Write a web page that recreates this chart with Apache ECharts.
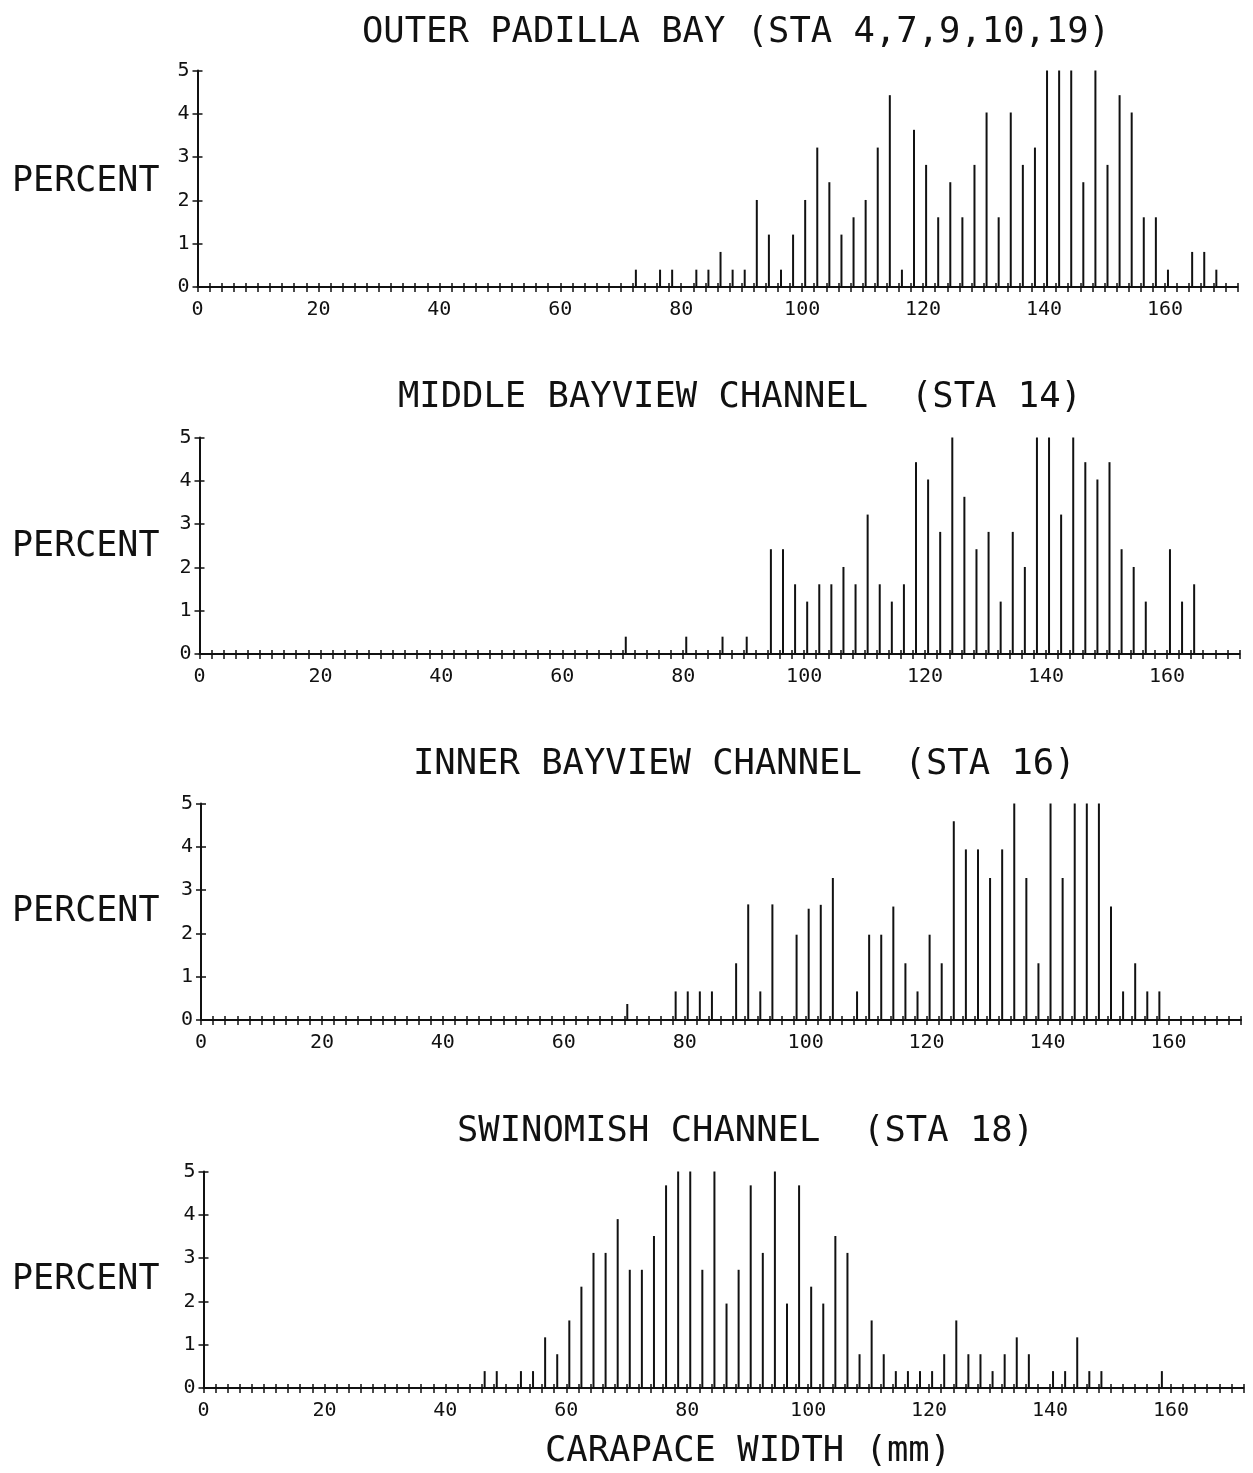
<!DOCTYPE html>
<html>
<head>
<meta charset="utf-8">
<script src="https://cdn.jsdelivr.net/npm/echarts@6/dist/echarts.min.js"></script>
<style>
html,body{margin:0;padding:0;background:#fff;}
#chart{width:1253px;height:1473px;}
</style>
</head>
<body>
<div id="chart"></div>
<script>
// ---------- DATA (percent of catch per 2 mm carapace-width class) ----------
// Bars that run off the top of a panel are entered as 5 (clipped at axis top).
const outerWidth = [72,74,76,78,80,82,84,86,88,90,92,94,96,98,100,102,104,106,108,110,112,114,116,118,120,122,124,126,128,130,132,134,136,138,140,142,144,146,148,150,152,154,156,158,160,162,164,166,168];
const outerPct   = [0.40,0,0.40,0.40,0,0.40,0.40,0.81,0.40,0.40,2.01,1.21,0.40,1.21,2.01,3.22,2.42,1.21,1.61,2.01,3.22,4.43,0.40,3.63,2.82,1.61,2.42,1.61,2.82,4.03,1.61,4.03,2.82,3.22,5,5,5,2.42,5,2.82,4.43,4.03,1.61,1.61,0.40,0,0.81,0.81,0.40];

const middleWidth = [70,72,74,76,78,80,82,84,86,88,90,92,94,96,98,100,102,104,106,108,110,112,114,116,118,120,122,124,126,128,130,132,134,136,138,140,142,144,146,148,150,152,154,156,158,160,162,164];
const middlePct   = [0.40,0,0,0,0,0.40,0,0,0.40,0,0.40,0,2.42,2.42,1.61,1.21,1.61,1.61,2.01,1.61,3.22,1.61,1.21,1.61,4.43,4.03,2.82,5,3.63,2.42,2.82,1.21,2.82,2.01,5,5,3.22,5,4.43,4.03,4.43,2.42,2.01,1.21,0,2.42,1.21,1.61];

const innerWidth = [70,72,74,76,78,80,82,84,86,88,90,92,94,96,98,100,102,104,106,108,110,112,114,116,118,120,122,124,126,128,130,132,134,136,138,140,142,144,146,148,150,152,154,156,158];
const innerPct   = [0.37,0,0,0,0.66,0.66,0.66,0.66,0,1.31,2.67,0.66,2.67,0,1.97,2.57,2.66,3.28,0,0.66,1.97,1.97,2.62,1.31,0.66,1.97,1.31,4.59,3.94,3.94,3.28,3.94,5,3.28,1.31,5,3.28,5,5,5,2.62,0.66,1.31,0.66,0.66];

const swinWidth = [46,48,50,52,54,56,58,60,62,64,66,68,70,72,74,76,78,80,82,84,86,88,90,92,94,96,98,100,102,104,106,108,110,112,114,116,118,120,122,124,126,128,130,132,134,136,138,140,142,144,146,148,150,152,154,156,158];
const swinPct   = [0.39,0.39,0,0.39,0.39,1.17,0.78,1.56,2.34,3.12,3.12,3.90,2.73,2.73,3.51,4.68,5,5,2.73,5,1.95,2.73,4.68,3.12,5,1.95,4.68,2.34,1.95,3.51,3.12,0.78,1.56,0.78,0.39,0.39,0.39,0.39,0.78,1.56,0.78,0.78,0.39,0.78,1.17,0.78,0,0.39,0.39,1.17,0.39,0.39,0,0,0,0,0.39];

const panelTitles = [
  'OUTER PADILLA BAY (STA 4,7,9,10,19)',
  'MIDDLE BAYVIEW CHANNEL  (STA 14)',
  'INNER BAYVIEW CHANNEL  (STA 16)',
  'SWINOMISH CHANNEL  (STA 18)'
];
const yAxisTitle = 'PERCENT';
const xAxisTitle = 'CARAPACE WIDTH (mm)';
const xTickLabels = [0,20,40,60,80,100,120,140,160];
const yTickLabels = [0,1,2,3,4,5];

// ---------- LAYOUT / STYLE ----------
const INK = '#111';
const MONO = '"DejaVu Sans Mono", "Liberation Mono", monospace';
const BAR_SHIFT = 0.5;   // needles are drawn just right of each 2-mm tick
const X_MAX = 172, Y_MAX = 5;
const PLOT_W = 1040, PLOT_H = 216.5;

const panels = [
  {w: outerWidth,  p: outerPct,  left: 197.5, top: 70.5,  tx: 362, ty: 33,   py: 182},
  {w: middleWidth, p: middlePct, left: 199.5, top: 437.5, tx: 398, ty: 398,  py: 547},
  {w: innerWidth,  p: innerPct,  left: 201,   top: 803.5, tx: 413, ty: 765,  py: 912},
  {w: swinWidth,   p: swinPct,   left: 203.5, top: 1171.5,tx: 457, ty: 1132, py: 1280}
];

const grid = [], xAxis = [], yAxis = [], series = [], graphic = [];
const lineStyle = {color: INK, width: 2};
const tickStyle = {color: INK, width: 1.5};

panels.forEach((pn, i) => {
  grid.push({left: pn.left, top: pn.top, width: PLOT_W, height: PLOT_H, containLabel: false, outerBoundsMode: 'none'});
  // main x axis: line, outward ticks, labels
  xAxis.push({
    gridIndex: i, type: 'value', min: 0, max: X_MAX, interval: 2, position: 'bottom',
    axisLine: {show: true, onZero: false, lineStyle: lineStyle},
    axisTick: {show: true, inside: false, length: 5, lineStyle: tickStyle},
    axisLabel: {show: true, margin: 13, color: INK, fontFamily: MONO, fontSize: 20,
      formatter: v => xTickLabels.indexOf(v) >= 0 ? String(v) : ''},
    splitLine: {show: false}
  });
  // companion x axis: inward half of the crossing ticks
  xAxis.push({
    gridIndex: i, type: 'value', min: 0, max: X_MAX, interval: 2, position: 'bottom',
    axisLine: {show: false}, axisLabel: {show: false}, splitLine: {show: false},
    axisTick: {show: true, inside: true, length: 4, lineStyle: tickStyle}
  });
  yAxis.push({
    gridIndex: i, type: 'value', min: 0, max: Y_MAX, interval: 1, position: 'left',
    axisLine: {show: true, onZero: false, lineStyle: lineStyle},
    axisTick: {show: true, inside: false, length: 5, lineStyle: tickStyle},
    axisLabel: {show: true, margin: 8, color: INK, fontFamily: MONO, fontSize: 20,
      formatter: v => yTickLabels.indexOf(v) >= 0 ? String(v) : ''},
    splitLine: {show: false}
  });
  yAxis.push({
    gridIndex: i, type: 'value', min: 0, max: Y_MAX, interval: 1, position: 'left',
    axisLine: {show: false}, axisLabel: {show: false}, splitLine: {show: false},
    axisTick: {show: true, inside: true, length: 5, lineStyle: tickStyle}
  });
  series.push({
    type: 'bar', xAxisIndex: 2 * i, yAxisIndex: 2 * i,
    barWidth: 2, itemStyle: {color: INK},
    data: pn.w.map((x, k) => [x + BAR_SHIFT, pn.p[k]]),
    silent: true
  });
  graphic.push({type: 'text', x: pn.tx, y: pn.ty,
    style: {text: panelTitles[i], fill: INK, fontFamily: MONO, fontSize: 35.5,
      textAlign: 'left', textVerticalAlign: 'middle'}});
  graphic.push({type: 'text', x: 12, y: pn.py,
    style: {text: yAxisTitle, fill: INK, fontFamily: MONO, fontSize: 35,
      textAlign: 'left', textVerticalAlign: 'middle'}});
});
graphic.push({type: 'text', x: 545, y: 1452,
  style: {text: xAxisTitle, fill: INK, fontFamily: MONO, fontSize: 35.5,
    textAlign: 'left', textVerticalAlign: 'middle'}});

const chart = echarts.init(document.getElementById('chart'), null, {renderer: 'canvas'});
chart.setOption({
  backgroundColor: '#fff',
  animation: false,
  grid, xAxis, yAxis, series, graphic
});
</script>
</body>
</html>
